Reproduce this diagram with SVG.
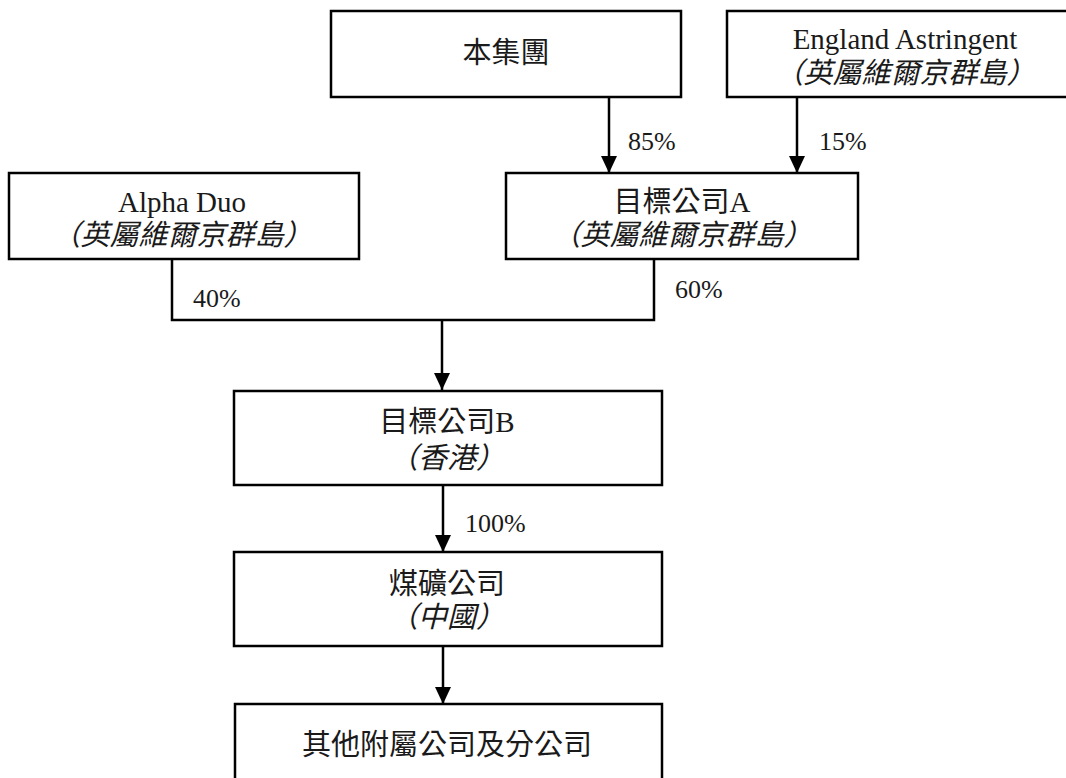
<svg xmlns="http://www.w3.org/2000/svg" width="1066" height="778" viewBox="0 0 1066 778">
<style>
.box{fill:#fff;stroke:#000;stroke-width:2.5}
.t{font-family:"Liberation Serif","Noto Sans CJK TC",serif;font-size:29px;fill:#1a1a1a;text-anchor:middle}
.i{font-style:italic}
.p{font-family:"Liberation Serif",serif;font-size:26px;fill:#1a1a1a}
.c{fill:none;stroke:#000;stroke-width:2.5}
</style>
<defs>
<marker id="ah" markerUnits="userSpaceOnUse" markerWidth="17" markerHeight="16" refX="17" refY="8" orient="auto" viewBox="0 0 17 16">
<path d="M0,0 L17,8 L0,16 Z" fill="#000"/>
</marker>
</defs>
<rect width="1066" height="778" fill="#fff"/>
<g id="connectors">
<line class="c" x1="609" y1="97" x2="609" y2="173" marker-end="url(#ah)"/>
<line class="c" x1="797" y1="97" x2="797" y2="173" marker-end="url(#ah)"/>
<polyline class="c" points="172,259 172,320 654,320 654,259"/>
<line class="c" x1="442" y1="320" x2="442" y2="390" marker-end="url(#ah)"/>
<line class="c" x1="443" y1="485" x2="443" y2="552" marker-end="url(#ah)"/>
<line class="c" x1="443" y1="646" x2="443" y2="704" marker-end="url(#ah)"/>
<text class="p" x="628" y="150">85%</text>
<text class="p" x="819" y="150">15%</text>
<text class="p" x="193" y="307">40%</text>
<text class="p" x="675" y="298">60%</text>
<text class="p" x="465" y="532">100%</text>
</g>
<g id="group">
<rect class="box" x="331" y="11" width="350" height="86"/>
<text class="t" x="506" y="63">本集團</text>
</g>
<g id="england">
<rect class="box" x="727" y="11" width="360" height="86"/>
<text class="t" x="905" y="49">England Astringent</text>
<text class="t i" x="905" y="83">（英屬維爾京群島）</text>
</g>
<g id="alpha">
<rect class="box" x="9" y="173" width="350" height="86"/>
<text class="t" x="182" y="212">Alpha Duo</text>
<text class="t i" x="182" y="245">（英屬維爾京群島）</text>
</g>
<g id="targetA">
<rect class="box" x="506" y="173" width="352" height="86"/>
<text class="t" x="682" y="212">目標公司A</text>
<text class="t i" x="682" y="245">（英屬維爾京群島）</text>
</g>
<g id="targetB">
<rect class="box" x="234" y="391" width="428" height="94"/>
<text class="t" x="447" y="432">目標公司B</text>
<text class="t i" x="447" y="468">（香港）</text>
</g>
<g id="coal">
<rect class="box" x="234" y="552" width="428" height="94"/>
<text class="t" x="447" y="594">煤礦公司</text>
<text class="t i" x="447" y="627">（中國）</text>
</g>
<g id="others">
<rect class="box" x="235" y="704" width="427" height="90"/>
<text class="t" x="447" y="755">其他附屬公司及分公司</text>
</g>
</svg>
